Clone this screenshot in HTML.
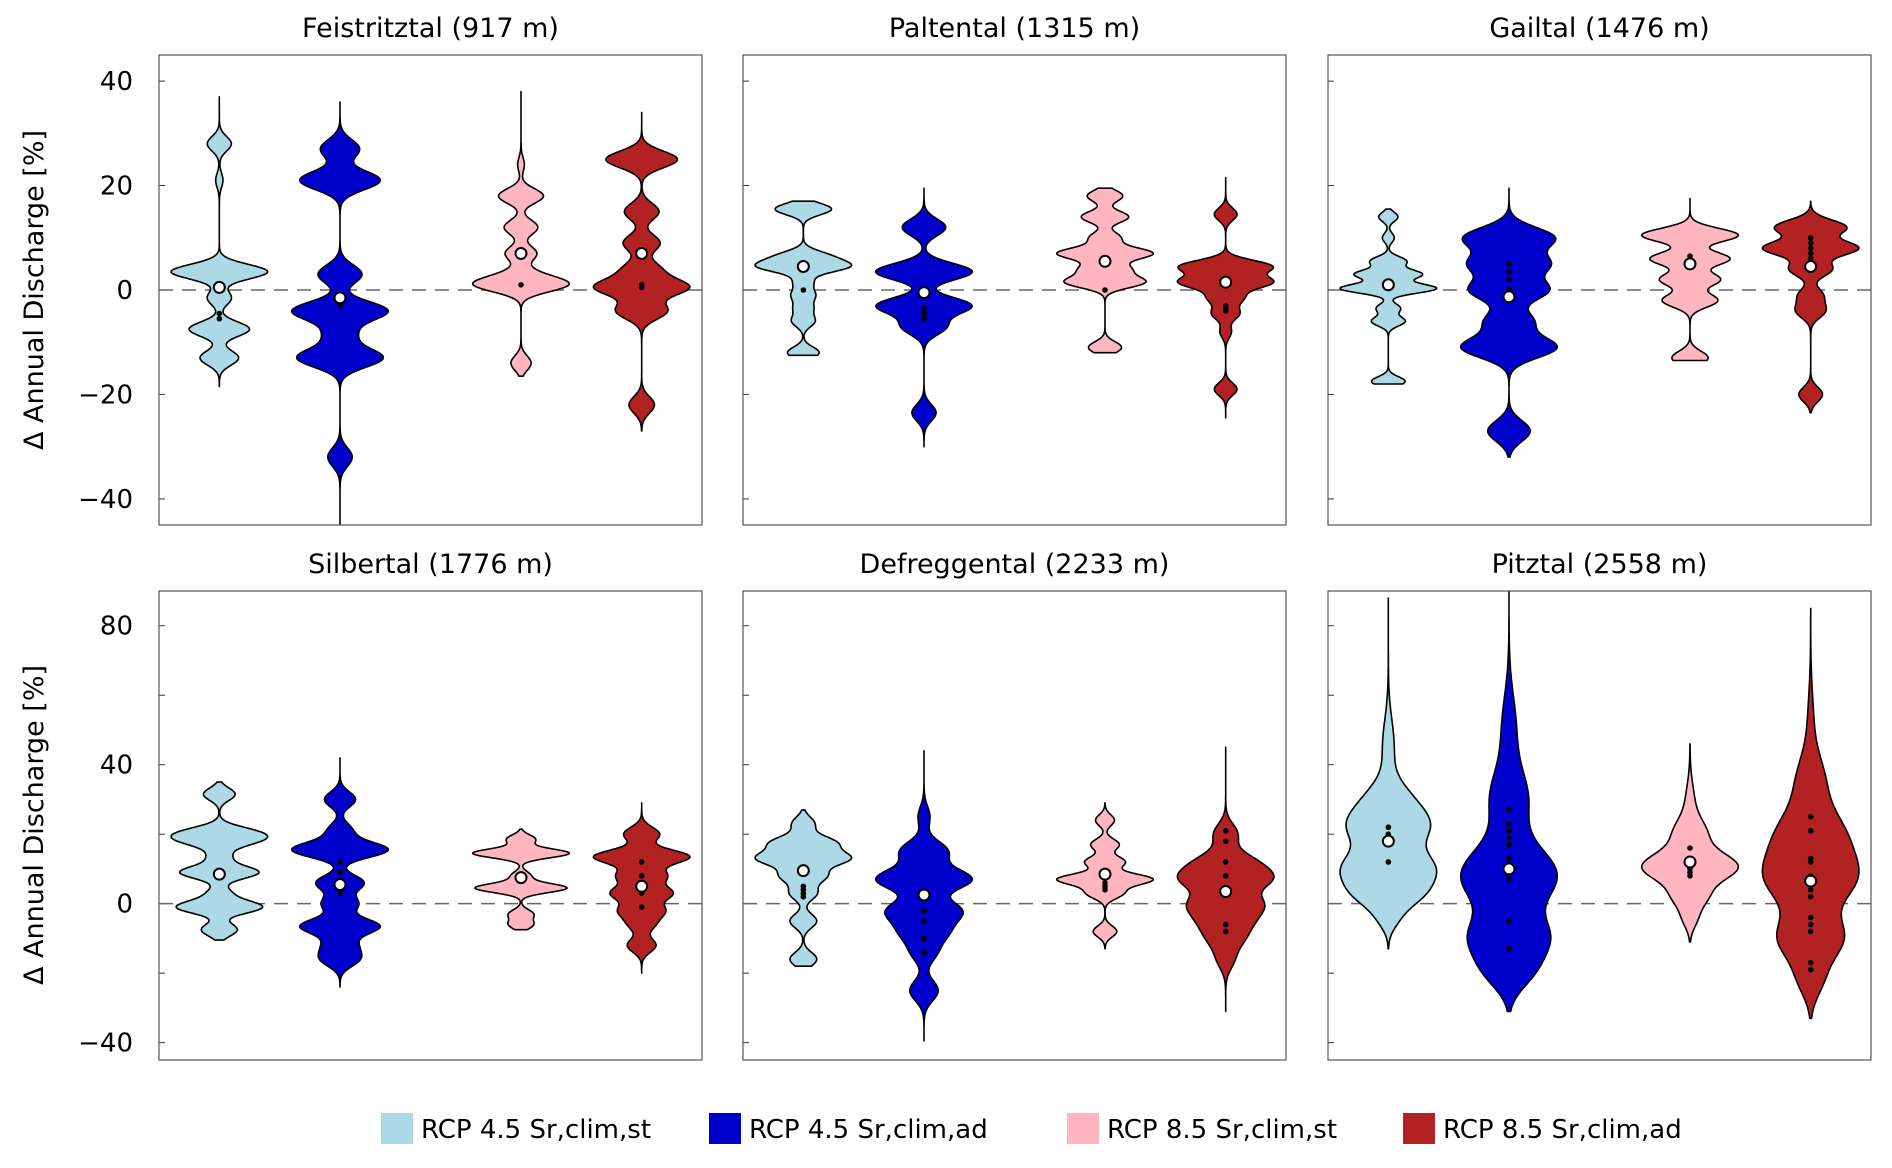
<!DOCTYPE html>
<html><head><meta charset="utf-8"><style>
html,body{margin:0;padding:0;background:#fff}
svg text{font-family:"DejaVu Sans","Liberation Sans",sans-serif;fill:#000}
</style></head><body>
<svg id="chart" width="1892" height="1163" viewBox="0 0 1892 1163" xmlns="http://www.w3.org/2000/svg"></svg>
<script>
const NS="http://www.w3.org/2000/svg";
const panelTitles=["Feistritztal (917 m)","Paltental (1315 m)","Gailtal (1476 m)","Silbertal (1776 m)","Defreggental (2233 m)","Pitztal (2558 m)"];
const seriesNames=["RCP 4.5 Sr,clim,st","RCP 4.5 Sr,clim,ad","RCP 8.5 Sr,clim,st","RCP 8.5 Sr,clim,ad"];
const seriesColors=["#ADD8E6","#0000CD","#FFB6C1","#B22222"];
const positions=[1,2,3.5,4.5];
const topTicks=[40,20,0,-20,-40];
const topTickLabels=["40","20","0","−20","−40"];
const botTicks=[80,60,40,20,0,-20,-40];
const botTickLabels=["80","","40","","0","","−40"];
// density components per violin: centers, relative amplitudes, sd
const centers=[
[[28,21,3.5,-1.5,-7.5,-13],[27,21,3,-4,-8.5,-13,-32],[24,18,12,7,3,1,-14],[25,15,9,4,0.5,-4,-22]],
[[15.5,6.5,4.5,1.5,-1,-3.5,-6,-12],[12,3.5,-3,-7,-23.5],[18,14,10,7,4,1.5,-11],[14.5,4.5,1.5,-1.5,-4.5,-8,-19]],
[[14,10,5.5,3,0.3,-3.5,-6,-17.5],[10,5,0,-6,-11,-27],[10.5,6,2,-2,-13],[12,8,4,-1,-4,-20]],
[[31.5,20.5,18,13.5,9,3,-1,-7.5],[30,21,15.5,6,0,-6.5,-12,-16],[18.5,14.5,8,4.5,-3,-6],[20,13.5,8,3,-2,-6,-12]],
[[23,17.5,13,8,3,-5,-16],[25,15,7,-2,-8,-14,-25],[24,17,12,7,3,-8],[20,12,7,0,-5,-10,-16]],
[[45,30,22,10,2,-5],[50,30,8,-10,-20],[28,20,10.5,2,-4],[50,35,20,7,-10,-22]]];
const amps=[
[[0.1,0.03,0.4,0.1,0.25,0.16],[0.16,0.33,0.18,0.39,0.12,0.35,0.1],[0.03,0.2,0.15,0.14,0.1,0.39,0.09],[0.31,0.15,0.16,0.15,0.4,0.22,0.11]],
[[0.25,0.2,0.38,0.08,0.1,0.08,0.1,0.14],[0.18,0.4,0.39,0.18,0.1],[0.15,0.2,0.13,0.4,0.2,0.33,0.14],[0.1,0.4,0.4,0.15,0.12,0.05,0.1]],
[[0.08,0.05,0.15,0.28,0.4,0.1,0.14,0.14],[0.38,0.33,0.33,0.2,0.4,0.18],[0.4,0.33,0.25,0.23,0.15],[0.3,0.4,0.18,0.1,0.12,0.1]],
[[0.15,0.3,0.28,0.1,0.37,0.1,0.4,0.17],[0.13,0.1,0.4,0.2,0.15,0.33,0.12,0.15],[0.12,0.4,0.08,0.38,0.1,0.1],[0.15,0.4,0.2,0.25,0.18,0.1,0.12]],
[[0.1,0.28,0.4,0.2,0.12,0.12,0.12],[0.05,0.2,0.4,0.3,0.18,0.1,0.12],[0.08,0.12,0.17,0.4,0.15,0.1],[0.12,0.25,0.4,0.32,0.2,0.15,0.08]],
[[0.05,0.15,0.3,0.37,0.2,0.05],[0.06,0.15,0.4,0.3,0.15],[0.04,0.12,0.4,0.12,0.06],[0.03,0.12,0.28,0.4,0.3,0.1]]];
const sds=[
[1.4,1.8,1.4,1.6],[1.1,1.6,1.1,1.2],[0.9,2.0,1.3,1.4],
[1.8,2.2,1.3,2.0],[2.0,3.0,1.6,3.0],
[[8,5,5,5,4,3],[10,8,8,6,5],[6,4,4,3,3],[10,7,7,7,6,5]]];
const lows=[[-18.5,-45,-16.5,-27],[-12.5,-30,-12,-24.5],[-18,-32,-13.5,-23.5],[-10.5,-24,-7.5,-20],[-18,-39.5,-13,-31],[-13,-31,-11,-33]];
const highs=[[37,36,38,34],[17,19.5,19.5,21.5],[15.5,19.5,17.5,17],[35,42,21.5,29],[27,44,29,45],[88,100,46,85]];
const medians=[[0.5,-1.5,7,7],[4.5,-0.5,5.5,1.5],[1,-1.3,5,4.5],[8.5,5.5,7.5,5],[9.5,2.5,8.5,3.5],[18,10,12,6.5]];
const members=[
[[-4.5,-5.5],[-3],[1],[1,0.5]],
[[0],[-3.5,-4.5,-5.5],[0],[-3,-3.5,-4]],
[[],[-2,0,2,3.5,5],[5.5,6.5],[5,6,7,8,9,10]],
[[],[3,6,9,12],[],[-1,3,8,12]],
[[2,3,4,5],[-2,-5,-10,-14],[4,5,6],[-8,-6,4,8,12,18,21]],
[[12,17,20,22],[-13,-5,7,13,17,19,21,23,27],[8,9,10,16],[-19,-17,-8,-6,-4,2,4,8,12,13,21,25]]];

const svg=document.getElementById('chart');
function el(tag,attrs,parent){const e=document.createElementNS(NS,tag);for(const k in attrs)e.setAttribute(k,attrs[k]);(parent||svg).appendChild(e);return e;}
const panelX=[159,743,1328], panelW=543;
const rows=[{y:55,h:470,ymin:-45,ymax:45,ticks:topTicks,labels:topTickLabels},{y:591,h:469,ymin:-45,ymax:90,ticks:botTicks,labels:botTickLabels}];
const xmin=0.5,xmax=5.0;

for(let p=0;p<6;p++){
  const r=rows[Math.floor(p/3)], px=panelX[p%3];
  const g=el('g',{});
  
  
  const X=v=>px+(v-xmin)/(xmax-xmin)*panelW;
  const Y=v=>r.y+(r.ymax-v)/(r.ymax-r.ymin)*r.h;
  const cid='clip'+p;
  const cp=el('clipPath',{id:cid},g);el('rect',{x:px,y:r.y,width:panelW,height:r.h},cp);
  const t=el('text',{x:px+panelW/2,y:r.y-18,'text-anchor':'middle','font-size':27},g);
  t.textContent=panelTitles[p];
  
  r.ticks.forEach((tv,i)=>{
    const tk=el('line',{x1:px,x2:px+6,y1:Y(tv),y2:Y(tv),stroke:'#333','stroke-width':1},g);
    
    if(p%3===0&&r.labels[i]){
      const tl=el('text',{x:px-26,y:Y(tv)+9,'text-anchor':'end','font-size':26},g);
      tl.textContent=r.labels[i];
      
    }
  });
  const zl=el('line',{x1:px,x2:px+panelW,y1:Y(0),y2:Y(0),stroke:'#666','stroke-width':1.5,'stroke-dasharray':'14,9'},g);
  
  const vg=el('g',{'clip-path':'url(#'+cid+')'},g);
  for(let s=0;s<4;s++){
    const C=centers[p][s],A=amps[p][s],S=sds[p][s];
    const lo=lows[p][s],hi=highs[p][s];
    const ys=[],ws=[];
    const n=400;
    for(let k=0;k<=n;k++){
      const v=lo+(hi-lo)*k/n;let w=0;
      for(let j=0;j<C.length;j++){const sd=Array.isArray(S)?S[j]:S;w+=A[j]*Math.exp(-((v-C[j])**2)/(2*sd*sd));}
      ys.push(v);ws.push(w);
    }
    const mx=Math.max(...ws);
    const pos=positions[s];
    let d='';
    for(let k=0;k<=n;k++){const w=ws[k]/mx*0.4;d+=(k?'L':'M')+X(pos+w).toFixed(1)+','+Y(ys[k]).toFixed(1);}
    for(let k=n;k>=0;k--){const w=ws[k]/mx*0.4;d+='L'+X(pos-w).toFixed(1)+','+Y(ys[k]).toFixed(1);}
    d+='Z';
    const vp=el('path',{d:d,fill:seriesColors[s],stroke:'#000','stroke-width':1.6,'stroke-linejoin':'round'},vg);
    
    members[p][s].forEach(m=>{
      const dt=el('circle',{cx:X(pos),cy:Y(m),r:2.8,fill:'#000'},vg);
      
    });
    const md=el('circle',{cx:X(pos),cy:Y(medians[p][s]),r:5.5,fill:'#fff',stroke:'#000','stroke-width':2},vg);
    
  }
  const fr=el('rect',{x:px,y:r.y,width:panelW,height:r.h,fill:'none',stroke:'#555','stroke-width':1.2},g);
  
}
[290,825].forEach(cy=>{
  const t=el('text',{x:0,y:0,'text-anchor':'middle','font-size':27,transform:'translate(43,'+cy+') rotate(-90)'});
  t.textContent='Δ Annual Discharge [%]';
  
});
const legX=[381,709,1067,1403];
for(let s=0;s<4;s++){
  const lg=el('g',{});
  
  el('rect',{x:legX[s],y:1113,width:32,height:31,fill:seriesColors[s]},lg);
  const t=el('text',{x:legX[s]+40,y:1138,'font-size':26},lg);
  t.textContent=seriesNames[s];
}
</script>
</body></html>
